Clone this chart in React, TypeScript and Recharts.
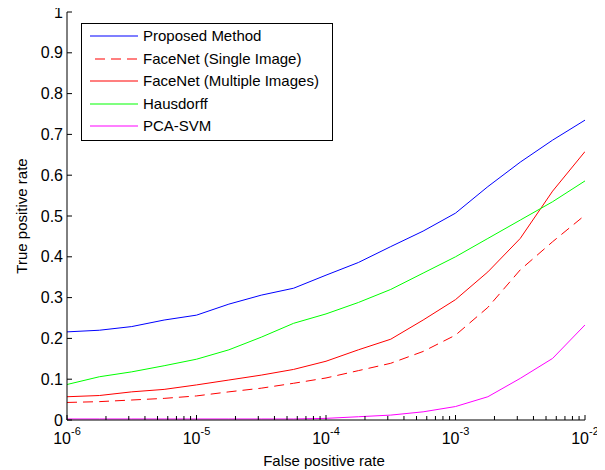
import React from 'react';
import { LineChart, Line, XAxis, YAxis, Legend } from 'recharts';

const FONT = '"Liberation Sans", Arial, Helvetica, sans-serif';

// False positive rate sample points (log-spaced, quarter decades)
const fpr = [1e-6, 1.778e-6, 3.162e-6, 5.623e-6, 1e-5, 1.778e-5, 3.162e-5, 5.623e-5, 1e-4, 1.778e-4, 3.162e-4, 5.623e-4, 1e-3, 1.778e-3, 3.162e-3, 5.623e-3, 1e-2];

// True positive rate per method
const proposed = [0.216, 0.220, 0.229, 0.245, 0.257, 0.284, 0.306, 0.323, 0.355, 0.386, 0.425, 0.463, 0.507, 0.572, 0.632, 0.686, 0.735];
const faceNetSingle = [0.043, 0.045, 0.049, 0.053, 0.059, 0.069, 0.078, 0.090, 0.103, 0.121, 0.139, 0.168, 0.208, 0.276, 0.368, 0.437, 0.502];
const faceNetMulti = [0.057, 0.060, 0.069, 0.075, 0.086, 0.098, 0.110, 0.124, 0.144, 0.172, 0.198, 0.245, 0.295, 0.363, 0.445, 0.561, 0.658];
const hausdorff = [0.087, 0.106, 0.118, 0.133, 0.149, 0.172, 0.203, 0.237, 0.260, 0.288, 0.320, 0.360, 0.400, 0.445, 0.490, 0.535, 0.586];
const pcaSvm = [0.0025, 0.0025, 0.0025, 0.0025, 0.0025, 0.0025, 0.0025, 0.0025, 0.004, 0.008, 0.012, 0.020, 0.033, 0.057, 0.102, 0.151, 0.233];

// Axis ticks
const xTicks = [
  1e-6, 2e-6, 3e-6, 4e-6, 5e-6, 6e-6, 7e-6, 8e-6, 9e-6,
  1e-5, 2e-5, 3e-5, 4e-5, 5e-5, 6e-5, 7e-5, 8e-5, 9e-5,
  1e-4, 2e-4, 3e-4, 4e-4, 5e-4, 6e-4, 7e-4, 8e-4, 9e-4,
  1e-3, 2e-3, 3e-3, 4e-3, 5e-3, 6e-3, 7e-3, 8e-3, 9e-3,
  1e-2,
];
const yTicks = [0, 0.1, 0.2, 0.3, 0.4, 0.5, 0.6, 0.7, 0.8, 0.9, 1];

const seriesNames = ['Proposed Method', 'FaceNet (Single Image)', 'FaceNet (Multiple Images)', 'Hausdorff', 'PCA-SVM'];
const seriesKeys = ['proposed', 'faceNetSingle', 'faceNetMulti', 'hausdorff', 'pcaSvm'];
const seriesColors = ['#0000ff', '#ff0000', '#ff0000', '#00ff00', '#ff00ff'];
const seriesDash = [undefined, '10 6', undefined, undefined, undefined];

const data = fpr.map((x, i) => ({
  fpr: x,
  proposed: proposed[i],
  faceNetSingle: faceNetSingle[i],
  faceNetMulti: faceNetMulti[i],
  hausdorff: hausdorff[i],
  pcaSvm: pcaSvm[i],
}));

const isMajor = (v: number) => {
  const e = Math.log10(v);
  return Math.abs(e - Math.round(e)) < 1e-6;
};

function BottomTick(props: any) {
  const { x, y, payload } = props;
  const v = payload.value;
  const major = isMajor(v);
  const e = Math.round(Math.log10(v));
  return (
    <g>
      <line x1={x} x2={x} y1={y} y2={y - (major ? 5 : 4)} stroke="#000" />
      {major && (
        <text x={x} y={y + 24} textAnchor="middle" fontFamily={FONT} fontSize={16} fill="#000">
          <tspan>10</tspan>
          <tspan dy={-9} fontSize={11}>{String(e)}</tspan>
        </text>
      )}
    </g>
  );
}

function TopTick(props: any) {
  const { x, y, payload } = props;
  const major = isMajor(payload.value);
  return <line x1={x} x2={x} y1={y} y2={y + (major ? 5 : 4)} stroke="#000" />;
}

function LeftTick(props: any) {
  const { x, y, payload } = props;
  const v = payload.value;
  const label = v === 0 ? '0' : v === 1 ? '1' : v.toFixed(1);
  return (
    <g>
      <line x1={x} x2={x + 5} y1={y} y2={y} stroke="#000" />
      <text x={x - 4} y={y} dy="0.35em" textAnchor="end" fontFamily={FONT} fontSize={16} fill="#000">
        {label}
      </text>
    </g>
  );
}

function RightTick(props: any) {
  const { x, y } = props;
  return <line x1={x} x2={x - 5} y1={y} y2={y} stroke="#000" />;
}

function LegendBox() {
  return (
    <svg width={252} height={118} style={{ display: 'block' }}>
      <rect x={0.5} y={0.5} width={251} height={117} fill="#fff" stroke="#000" />
      {seriesNames.map((name, i) => {
        const cy = 13 + Math.round(i * 22.5);
        return (
          <g key={name}>
            <line
              x1={seriesDash[i] ? 14 : 9}
              x2={57}
              y1={cy}
              y2={cy}
              stroke={seriesColors[i]}
              strokeWidth={1.1}
              strokeDasharray={seriesDash[i]}
            />
            <text x={62} y={cy} dy="0.35em" fontFamily={FONT} fontSize={15} fill="#000">
              {name}
            </text>
          </g>
        );
      })}
    </svg>
  );
}

export default function App() {
  return (
    <div style={{ width: 605, height: 470, margin: '-8px 0 0 -8px', background: '#fff' }}>
      <LineChart width={605} height={470} data={data} margin={{ top: 12, right: 20, bottom: 0, left: 0 }}>
        <XAxis
          xAxisId="bottom"
          dataKey="fpr"
          type="number"
          scale="log"
          domain={[1e-6, 1e-2]}
          allowDataOverflow
          ticks={xTicks}
          interval={0}
          tickSize={0}
          tickMargin={0}
          tick={<BottomTick />}
          height={50}
          orientation="bottom"
          axisLine={{ stroke: '#000' }}
          tickLine={false}
          label={() => (
            <text x={324} y={466} textAnchor="middle" fontFamily={FONT} fontSize={15} fill="#000">
              False positive rate
            </text>
          )}
        />
        <XAxis
          xAxisId="top"
          dataKey="fpr"
          type="number"
          scale="log"
          domain={[1e-6, 1e-2]}
          allowDataOverflow
          ticks={xTicks}
          interval={0}
          tickSize={0}
          tickMargin={0}
          tick={<TopTick />}
          height={0}
          orientation="top"
          axisLine={{ stroke: '#000' }}
          tickLine={false}
        />
        <YAxis
          yAxisId="left"
          type="number"
          domain={[0, 1]}
          allowDataOverflow
          ticks={yTicks}
          interval={0}
          tickSize={0}
          tickMargin={0}
          tick={<LeftTick />}
          width={67}
          orientation="left"
          axisLine={{ stroke: '#000' }}
          tickLine={false}
          label={() => (
            <text
              transform="translate(22,216) rotate(-90)"
              textAnchor="middle"
              dy="0.35em"
              fontFamily={FONT}
              fontSize={15}
              fill="#000"
            >
              True positive rate
            </text>
          )}
        />
        <YAxis
          yAxisId="right"
          type="number"
          domain={[0, 1]}
          allowDataOverflow
          ticks={yTicks}
          interval={0}
          tickSize={0}
          tickMargin={0}
          tick={<RightTick />}
          width={0}
          orientation="right"
          axisLine={{ stroke: '#000' }}
          tickLine={false}
        />
        {seriesKeys.map((k, i) => (
          <Line
            key={k}
            xAxisId="bottom"
            yAxisId="left"
            dataKey={k}
            name={seriesNames[i]}
            type="linear"
            stroke={seriesColors[i]}
            strokeWidth={1}
            strokeDasharray={seriesDash[i]}
            dot={false}
            activeDot={false}
            isAnimationActive={false}
          />
        ))}
        <Legend
          layout="vertical"
          align="center"
          verticalAlign="middle"
          content={() => <LegendBox />}
          wrapperStyle={{ position: 'absolute', left: 81, top: 23, width: 252, height: 118 }}
        />
      </LineChart>
    </div>
  );
}
